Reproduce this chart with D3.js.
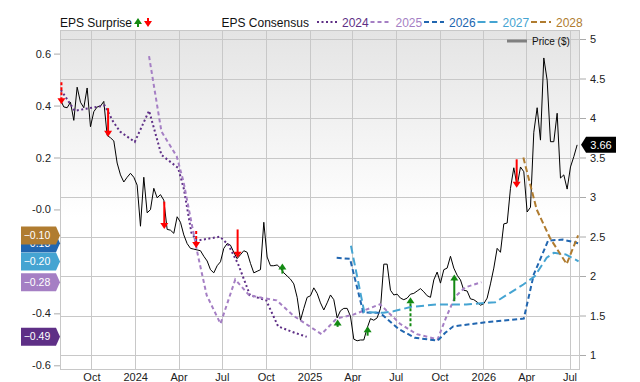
<!DOCTYPE html>
<html lang="en">
<head>
<meta charset="UTF-8">
<title>EPS Consensus vs Price</title>
<script src="https://d3js.org/d3.v7.min.js"></script>
<style>
  body { margin: 0; background: #fff; }
  svg text { font-family: "Liberation Sans", Arial, sans-serif; }
</style>
</head>
<body>
<div id="chart"></div>
<script>
// weekly closing price ($), first week 2023-07-28
const priceStart = "2023-07-28";
const price = [
  4.23, 4.14, 4.13, 4.20, 3.97, 4.39, 4.20, 4.13, 4.38, 3.89,
  4.08, 4.14, 4.15, 4.21, 3.78, 3.75, 3.71, 3.43, 3.28, 3.19,
  3.25, 3.30, 3.25, 3.15, 2.63, 3.25, 2.80, 2.84, 3.11, 2.99,
  3.03, 2.96, 2.59, 2.58, 2.54, 2.75, 2.68, 2.52, 2.41, 2.35,
  2.34, 2.33, 2.32, 2.25, 2.19, 2.08, 2.04, 2.13, 2.18, 2.35,
  2.41, 2.39, 2.30, 2.22, 2.27, 2.32, 2.30, 2.16, 2.04, 2.06,
  2.08, 2.68, 2.24, 2.13, 2.13, 2.14, 2.10, 2.04, 2.00, 1.96,
  1.90, 1.73, 1.44, 1.59, 1.73, 1.75, 1.85, 1.78, 1.66, 1.57,
  1.66, 1.76, 1.70, 1.47, 1.56, 1.59, 1.59, 1.49, 1.20, 1.18,
  1.19, 1.19, 1.34, 1.46, 1.44, 1.47, 1.59, 2.15, 2.15, 1.82,
  1.76, 1.77, 1.72, 1.70, 1.72, 1.77, 1.78, 1.81, 1.84, 1.80,
  1.75, 1.73, 1.95, 2.05, 1.91, 2.08, 2.10, 2.25, 2.10, 2.01,
  1.95, 1.82, 1.81, 1.71, 1.70, 1.67, 1.63, 1.65, 1.72, 1.90,
  2.10, 2.35, 2.30, 2.66, 2.67, 3.11, 3.37, 3.14, 3.38, 3.32,
  2.81, 2.87, 3.82, 4.13, 3.72, 4.76, 4.48, 3.70, 3.70, 4.06,
  3.24, 3.28, 3.10, 3.38, 3.51, 3.66
];

// EPS consensus per fiscal year: [date, eps]
const cons2024 = [
  ["2023-07-29", 0.46], ["2023-08-27", 0.38], ["2023-10-29", 0.40], ["2023-11-15", 0.34],
  ["2023-11-30", 0.30], ["2023-12-31", 0.26], ["2024-01-30", 0.38], ["2024-02-25", 0.21],
  ["2024-03-31", 0.16], ["2024-04-12", 0.08], ["2024-04-28", -0.09], ["2024-05-09", -0.12],
  ["2024-06-27", -0.105], ["2024-07-14", -0.135], ["2024-08-04", -0.21], ["2024-08-29", -0.33],
  ["2024-10-02", -0.35], ["2024-10-27", -0.45], ["2024-12-01", -0.475], ["2024-12-26", -0.49]
];
const cons2025 = [
  ["2024-01-30", 0.59], ["2024-02-25", 0.30], ["2024-03-28", 0.205], ["2024-04-11", 0.11],
  ["2024-04-28", -0.05], ["2024-05-12", -0.18], ["2024-05-30", -0.33], ["2024-06-28", -0.44],
  ["2024-07-29", -0.27], ["2024-08-27", -0.33], ["2024-09-23", -0.34], ["2024-10-24", -0.35],
  ["2024-11-29", -0.41], ["2025-01-26", -0.48], ["2025-02-27", -0.42], ["2025-04-03", -0.405],
  ["2025-05-29", -0.365], ["2025-07-10", -0.44], ["2025-08-14", -0.48], ["2025-09-27", -0.50],
  ["2025-10-15", -0.415], ["2025-11-03", -0.335], ["2025-11-24", -0.30], ["2025-12-28", -0.28]
];
const cons2026 = [
  ["2025-02-27", -0.186], ["2025-03-27", -0.19], ["2025-04-24", -0.397], ["2025-05-29", -0.398],
  ["2025-07-07", -0.46], ["2025-08-10", -0.494], ["2025-09-27", -0.505], ["2025-10-13", -0.475],
  ["2025-10-30", -0.45], ["2026-01-02", -0.435], ["2026-03-27", -0.42], ["2026-04-17", -0.25],
  ["2026-05-17", -0.12], ["2026-06-17", -0.116], ["2026-07-19", -0.13]
];
const cons2027 = [
  ["2025-03-29", -0.14], ["2025-04-26", -0.395], ["2025-06-05", -0.398], ["2025-06-26", -0.392],
  ["2025-08-03", -0.375], ["2025-09-25", -0.366], ["2025-11-26", -0.366], ["2026-01-26", -0.357],
  ["2026-03-26", -0.289], ["2026-04-19", -0.257], ["2026-05-14", -0.186], ["2026-05-29", -0.167],
  ["2026-06-23", -0.173], ["2026-07-20", -0.20]
];
const cons2028 = [
  ["2026-03-26", 0.20], ["2026-04-23", 0.0], ["2026-05-21", -0.11], ["2026-06-25", -0.21],
  ["2026-07-19", -0.10]
];

// EPS surprises: consensus -> reported
const surpriseDates = ["2023-07-30", "2023-11-05", "2024-03-02", "2024-05-08", "2024-08-03", "2024-11-05",
                       "2025-03-01", "2025-05-03", "2025-08-01", "2025-11-01", "2026-03-12"];
const surpriseFrom = [0.49, 0.39, 0.03, -0.083, -0.077, -0.247, -0.452, -0.486, -0.45, -0.353, 0.193];
const surpriseTo = [0.405, 0.28, -0.075, -0.148, -0.186, -0.208, -0.424, -0.45, -0.338, -0.25, 0.084];
const surpriseDashed = [true, false, false, true, false, false, false, false, true, false, false];

// axis ticks (the -0.2 label sits under the badges, so it is left blank)
const xTickDates = ["2023-10-01", "2024-01-01", "2024-04-01", "2024-07-01", "2024-10-01", "2025-01-01",
                    "2025-04-01", "2025-07-01", "2025-10-01", "2026-01-01", "2026-04-01", "2026-07-01"];
const xTickLabels = ["Oct", "2024", "Apr", "Jul", "Oct", "2025", "Apr", "Jul", "Oct", "2026", "Apr", "Jul"];
const epsTicks = [0.6, 0.4, 0.2, 0, -0.2, -0.4, -0.6];
const epsTickLabels = ["0.6", "0.4", "0.2", "-0.0", "", "-0.4", "-0.6"];
const priceTicks = [1, 1.5, 2, 2.5, 3, 3.5, 4, 4.5, 5];
const priceTickLabels = ["1", "1.5", "2", "2.5", "3", "3.5", "4", "4.5", "5"];

const seriesNames = ["2024", "2025", "2026", "2027", "2028"];
const seriesData = [cons2024, cons2025, cons2026, cons2027, cons2028];

const colors = ["#5e2f86", "#a57fc4", "#2166b0", "#45a4d2", "#b07c30"];
const dashes = ["2,2.5", "4,3", "5,3", "8,4", "6,3"];

const parseDate = d3.timeParse("%Y-%m-%d");

const W = 640, H = 382;
const plot = {left: 60, right: 580, top: 30, bottom: 370};

const svg = d3.select("#chart").append("svg")
  .attr("width", W)
  .attr("height", H);

const x = d3.scaleTime()
  .domain([parseDate("2023-07-27"), parseDate("2026-07-23")])
  .range([plot.left, plot.right]);
const yEps = d3.scaleLinear().domain([-0.6, 0.6]).range([365.3, 53.6]);
const yPrice = d3.scaleLinear().domain([1, 5]).range([355, 39]);

// background gradient
const grad = svg.append("defs").append("linearGradient")
  .attr("id", "bg").attr("x1", 0).attr("y1", 0).attr("x2", 0).attr("y2", 1);
grad.append("stop").attr("offset", "0%").attr("stop-color", "#e4e4e4");
grad.append("stop").attr("offset", "55%").attr("stop-color", "#ffffff");

svg.append("rect")
  .attr("x", plot.left).attr("y", plot.top)
  .attr("width", plot.right - plot.left).attr("height", plot.bottom - plot.top)
  .attr("fill", "url(#bg)");

// grid
const grid = svg.append("g").attr("stroke", "#c8c8c8").attr("stroke-width", 1);
grid.selectAll(".vg").data(xTickDates).enter().append("line")
  .attr("x1", d => Math.round(x(parseDate(d))) + 0.5)
  .attr("x2", d => Math.round(x(parseDate(d))) + 0.5)
  .attr("y1", plot.top).attr("y2", plot.bottom);
grid.selectAll(".hg").data(priceTicks).enter().append("line")
  .attr("x1", plot.left).attr("x2", plot.right)
  .attr("y1", d => Math.round(yPrice(d)) + 0.5)
  .attr("y2", d => Math.round(yPrice(d)) + 0.5);
svg.append("rect")
  .attr("x", plot.left + 0.5).attr("y", plot.top + 0.5)
  .attr("width", plot.right - plot.left - 1).attr("height", plot.bottom - plot.top - 1)
  .attr("fill", "none").attr("stroke", "#c8c8c8");

// axes
const leftAxis = svg.append("g")
  .attr("transform", `translate(${plot.left},0)`)
  .call(d3.axisLeft(yEps).tickValues(epsTicks).tickFormat((d, i) => epsTickLabels[i]).tickSize(6).tickPadding(3));
const rightAxis = svg.append("g")
  .attr("transform", `translate(${plot.right},0)`)
  .call(d3.axisRight(yPrice).tickValues(priceTicks).tickFormat((d, i) => priceTickLabels[i]).tickSize(6).tickPadding(4));
const bottomAxis = svg.append("g")
  .attr("transform", `translate(0,${plot.bottom})`)
  .call(d3.axisBottom(x).tickValues(xTickDates.map(parseDate)).tickFormat((d, i) => xTickLabels[i]).tickSize(0).tickPadding(3));
[leftAxis, rightAxis, bottomAxis].forEach(a => {
  a.select(".domain").remove();
  a.selectAll("line").attr("stroke", "#aaaaaa");
  a.selectAll("text").attr("font-size", 11).attr("fill", "#222")
    .style("font-family", "'Liberation Sans', Arial, sans-serif");
});

// price line
const priceData = price.map((p, i) => ({date: d3.timeDay.offset(parseDate(priceStart), 7 * i), value: p}));
svg.append("path")
  .datum(priceData)
  .attr("fill", "none")
  .attr("stroke", "#000")
  .attr("stroke-width", 1)
  .attr("d", d3.line().x(d => x(d.date)).y(d => yPrice(d.value)));

// consensus lines
const consLine = d3.line().x(d => x(parseDate(d[0]))).y(d => yEps(d[1]));
seriesData.forEach((s, i) => {
  svg.append("path")
    .datum(s)
    .attr("fill", "none")
    .attr("stroke", colors[i])
    .attr("stroke-width", 2)
    .attr("stroke-dasharray", dashes[i])
    .attr("d", consLine);
});

// surprise arrows
function arrow(g, xx, y0, y1, color, dashed) {
  const dir = y1 > y0 ? 1 : -1;
  g.append("line")
    .attr("x1", xx).attr("x2", xx)
    .attr("y1", y0).attr("y2", y1 - dir * 5)
    .attr("stroke", color).attr("stroke-width", 2)
    .attr("stroke-dasharray", dashed ? "3,2" : null);
  g.append("path")
    .attr("d", `M${xx - 4},${y1 - dir * 6}L${xx + 4},${y1 - dir * 6}L${xx},${y1}Z`)
    .attr("fill", color);
}
const arrows = svg.append("g");
surpriseDates.forEach((d, i) => {
  const color = surpriseTo[i] > surpriseFrom[i] ? "#138a13" : "#ff0000";
  arrow(arrows, x(parseDate(d)), yEps(surpriseFrom[i]), yEps(surpriseTo[i]), color, surpriseDashed[i]);
});

// value badges on the left (last consensus of each year)
const fmt = d3.format(".2f");
const badgeOrder = [0, 1, 3, 2, 4];
badgeOrder.forEach(i => {
  const v = seriesData[i][seriesData[i].length - 1][1];
  const cy = yEps(v);
  svg.append("path")
    .attr("d", `M21,${cy - 9}L56,${cy - 9}L60,${cy}L56,${cy + 9}L21,${cy + 9}Z`)
    .attr("fill", colors[i]);
  svg.append("text")
    .attr("x", 37).attr("y", cy).attr("dy", "0.35em")
    .attr("text-anchor", "middle")
    .attr("font-size", 10.5)
    .attr("fill", "#fff")
    .text(fmt(v));
});

// price badge on the right
const lastPrice = price[price.length - 1];
const py = yPrice(lastPrice);
svg.append("path")
  .attr("d", `M581,${py}L586,${py - 8}L616,${py - 8}L616,${py + 8}L586,${py + 8}Z`)
  .attr("fill", "#000");
svg.append("text")
  .attr("x", 601).attr("y", py).attr("dy", "0.35em")
  .attr("text-anchor", "middle")
  .attr("font-size", 11)
  .attr("fill", "#fff")
  .text(fmt(lastPrice));

// legend
const legend = svg.append("g");
legend.append("text").attr("x", 60).attr("y", 27).attr("font-size", 12).attr("fill", "#111").text("EPS Surprise");
arrow(legend, 138, 27, 18, "#138a13", false);
arrow(legend, 148, 18, 27, "#ff0000", false);
legend.append("text").attr("x", 221.5).attr("y", 27).attr("font-size", 12).attr("fill", "#111").text("EPS Consensus");
seriesNames.forEach((name, i) => {
  const lx = 317 + i * 53.5;
  legend.append("line")
    .attr("x1", lx).attr("x2", lx + 20)
    .attr("y1", 22).attr("y2", 22)
    .attr("stroke", colors[i]).attr("stroke-width", 2)
    .attr("stroke-dasharray", dashes[i]);
  legend.append("text")
    .attr("x", lx + 25).attr("y", 27)
    .attr("font-size", 12)
    .attr("fill", colors[i])
    .text(name);
});
legend.append("line")
  .attr("x1", 507).attr("x2", 527).attr("y1", 41).attr("y2", 41)
  .attr("stroke", "#808080").attr("stroke-width", 3);
legend.append("text").attr("x", 532).attr("y", 45).attr("font-size", 10).attr("fill", "#111").text("Price ($)");
</script>
</body>
</html>
